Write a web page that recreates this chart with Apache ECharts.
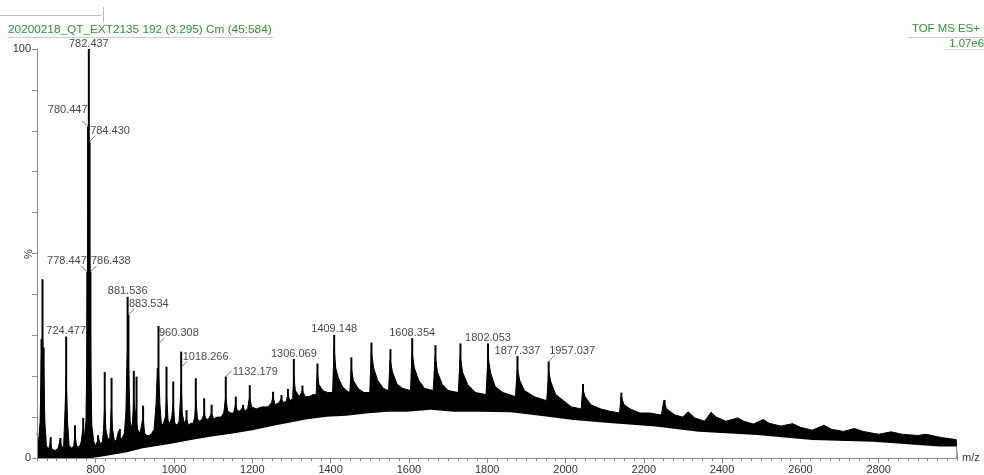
<!DOCTYPE html>
<html>
<head>
<meta charset="utf-8">
<script src="https://cdn.jsdelivr.net/npm/echarts@6/dist/echarts.min.js"></script>
<style>
  html, body { margin: 0; padding: 0; background: #fff; }
  #chart { width: 984px; height: 475px; }
</style>
</head>
<body>
<div id="chart"></div>
<script>
// upper edge of the signal band, [m/z, %]
const bandTop = [
  [650,6],[654,4],[658,9],[661,24],[664,30],[667,22],[670,9],[674,3],[680,2.2],[684,4],[688,2.2],
  [696,1.8],[704,2.4],[709,4.5],[713,2.5],[718,3],[721,10],[724.5,20],[728,9],[732,3],[739,2.4],
  [744,3],[747,6],[751,3],[758,2.6],[763,4],[767,7],[771,5],[775,9],[777.5,25],[779.5,45],
  [781.5,60],[783.5,60],[785.5,45],[787.5,22],[790,8],[795,4],[800,3],[804,4],[807,5],[811,3.5],
  [817,4],[820,7],[823,13],[826,7],[831,4.5],[836,5],[840,12],[843,7],[848,4],[853,4.5],[858,6.5],
  [862,4.5],[868,5],[873,6],[877,11],[880,24],[882.5,28],[885,18],[888,9],[893,7],[897,14],
  [900,12],[904,12],[907,7],[913,6],[918,6],[921,10],[925,6],[931,5.5],[937,5.5],[943,6],[949,7],
  [954,13],[957.5,22],[961,20],[964,13],[968,8],[973,8.5],[978,10],[981,15],[985,9],[990,8.5],
  [994,10],[998,13],[1002,8.5],[1008,8],[1013,9],[1016,14],[1018.5,18],[1021,11],[1026,8.5],
  [1032,9.5],[1037,8],[1043,8.5],[1049,8.5],[1053,10],[1056,14],[1060,9.5],[1066,9],[1072,9.5],
  [1077,11],[1082,9.5],[1088,9.5],[1093,9.5],[1096,11],[1101,9.5],[1110,10],[1120,10],[1127,11],
  [1132,15],[1137,11.5],[1145,11],[1152,11],[1157,13],[1162,11.5],[1169,11.5],[1176,12.5],
  [1181,11.5],[1188,12],[1193,15],[1198,12.5],[1210,12],[1225,12.5],[1240,12.5],[1249,13.5],
  [1253,15],[1258,13],[1268,13.5],[1274,14.5],[1280,13.5],[1287,14],[1291,15.5],[1296,14],
  [1303,14.5],[1306,20],[1310,16.5],[1320,15],[1328,16.5],[1335,15],[1345,15],[1355,15.5],
  [1363,15.5],[1366,21],[1370,18],[1380,16.5],[1392,16],[1405,16],[1409,27],[1413,22],[1420,19.5],
  [1430,17.5],[1440,16.5],[1449,16],[1453,22],[1458,19],[1470,17],[1485,16],[1500,16],[1504,26],
  [1510,22],[1520,19],[1535,17],[1548,16.5],[1552,24],[1558,21],[1570,18],[1585,17],[1604,16.5],
  [1608,26],[1614,22],[1625,19],[1640,17],[1662,16.5],[1667,25],[1673,21],[1685,18],[1700,16.5],
  [1726,16],[1731,25],[1737,21],[1750,18],[1770,16],[1797,15.5],[1802,25],[1808,21],[1820,17.5],
  [1840,16],[1872,15],[1877,22],[1883,19],[1895,16.5],[1920,15],[1952,14],[1957,21],[1963,18.5],
  [1975,15.5],[1995,14],[2015,12.5],[2040,12],[2044,17],[2050,15],[2065,13],[2090,12],[2110,11.5],
  [2138,11],[2142,15],[2150,13],[2165,12],[2190,11],[2215,11],[2245,10.5],[2251,14],[2258,12],
  [2280,10.5],[2300,10],[2313,11.3],[2330,9.8],[2355,9],[2372,11.2],[2385,10],[2410,9],[2440,9.8],
  [2455,9],[2480,8.3],[2505,9.4],[2520,8.5],[2550,7.8],[2580,8.4],[2600,7.5],[2630,6.8],[2660,8],
  [2680,7],[2710,6.5],[2738,7.2],[2760,6.5],[2800,5.8],[2832,6.4],[2860,5.8],[2900,5.5],[2921,5.8],
  [2960,5],[2998,4.5],[3000,0]
];

// lower edge of the band (white below it)
const bandFloor = [
  [650,0],[790,0],[820,0.4],[850,0.9],[880,1.4],[920,2.4],[960,3.0],[1000,3.6],[1050,4.5],
  [1100,5.3],[1150,6.0],[1200,6.8],[1260,8.0],[1340,9.5],[1390,10.1],[1440,10.3],[1490,10.9],
  [1545,11.3],[1595,11.3],[1655,11.8],[1715,11.3],[1780,11.3],[1860,11.2],[1935,10.3],[2020,9.3],
  [2120,8.5],[2230,7.7],[2340,6.4],[2490,5.6],[2630,4.4],[2785,4.0],[2955,2.8],[2999,2.8]
];

// centroid spikes
const spikeMz = [661.5,664,667,685,710,724.5,747,768,778.4,780.4,782.4,784.4,786.4,806,823,840.4,
  861.6,881.5,883.5,897.3,904.2,921,960.3,980.8,998,1018.3,1032,1055.6,1077,1096,1132.2,1157.8,
  1176.4,1193.5,1253,1274.5,1291,1306.1,1328,1345,1366.4,1409.1,1453,1504.3,1552.8,1608.4,1667.8,
  1731.6,1802.1,1877.3,1957,2044.7,2142.7,2253];
const spikePct = [29,43.7,27,5.1,4.9,29.7,8,9.8,45.5,81,100,77.4,45.5,5.6,21,19.6,
  7.1,39.4,35,21.3,19.9,12.8,32.3,22.3,18.7,26,11.7,19.5,14.6,13,19.9,15,
  13,17.8,16.2,15.4,16.9,24.2,17.7,14.8,23.1,30.1,24.6,28.2,26.6,29.3,27.6,
  28,28,24.9,23.6,18.1,16,14.2];

// annotated peaks and the height where each label attaches
const peakText = ['782.437','780.447','784.430','778.447','786.438','724.477','881.536','883.534',
  '960.308','1018.266','1132.179','1306.069','1409.148','1608.354','1802.053','1877.337','1957.037'];
const peakAt = [100,81,77.4,45.5,45.5,29.7,39.4,35,27.9,22.2,19.9,24.2,30.1,29.3,28,24.9,23.6];
const peakSide = ['top','left','right','left','right','top','top','right',
  'right','right','right','top','top','top','top','top','right'];
const peakDx = [0,9,-9,9,-9,0,0,-9,-9,-8,-2.5,0,0,0,0,0,-9];
const peakDy = [0,-14,-7,-8,-8,0,0,-8,-7.5,-7.6,-2,0,0,0,0,0,-7.5];

const xLabels = [800,1000,1200,1400,1600,1800,2000,2200,2400,2600,2800];
const yLabels = [0,100];

const minorTicks = [];
for (let v = 650; v <= 3000; v += 25) minorTicks.push(v);

const font = 'Liberation Sans';
const green = '#2a962a';
// small leader strokes from peak to label
const leader = {
  right: { symbol: 'path://M0,6L6,0', offset: [3, -3] },
  left: { symbol: 'path://M0,0L6,6', offset: [-3, -3] }
};

const chart = echarts.init(document.getElementById('chart'));

chart.setOption({
  animation: false,
  backgroundColor: '#fff',
  grid: { left: 37, right: 27, top: 49, bottom: 17, outerBoundsMode: 'none' },
  xAxis: [{
    type: 'value', min: 650, max: 3000, z: 5,
    name: 'm/z', nameLocation: 'end', nameGap: 5,
    nameTextStyle: { color: '#333', fontSize: 11, fontFamily: font },
    axisLine: { lineStyle: { color: '#8a8a8a', width: 1 } },
    axisTick: { length: 3, customValues: minorTicks, lineStyle: { color: '#8a8a8a' } },
    axisLabel: {
      customValues: xLabels, margin: 6, color: '#333', fontSize: 11, fontFamily: font,
      formatter: v => String(v)
    },
    splitLine: { show: false }
  }, {
    type: 'value', min: 650, max: 3000, position: 'bottom', z: 5,
    axisLine: { show: false },
    axisTick: { length: 5, customValues: xLabels, lineStyle: { color: '#8a8a8a' } },
    axisLabel: { show: false },
    splitLine: { show: false }
  }],
  yAxis: {
    type: 'value', min: 0, max: 100, interval: 10, z: 5,
    axisLine: { show: true, lineStyle: { color: '#8a8a8a', width: 1 } },
    axisTick: { show: true, length: 5, lineStyle: { color: '#8a8a8a' } },
    axisLabel: {
      margin: 6, color: '#333', fontSize: 11, fontFamily: font,
      formatter: v => (yLabels.indexOf(v) >= 0 ? String(v) : '')
    },
    splitLine: { show: false }
  },
  series: [{
    type: 'line', data: bandTop, showSymbol: false, z: 2,
    lineStyle: { color: '#000', width: 1 },
    areaStyle: { color: '#000', opacity: 1 }
  }, {
    type: 'bar', data: spikeMz.map((m, i) => [m, spikePct[i]]), barWidth: 2, z: 2,
    itemStyle: { color: '#000' }
  }, {
    type: 'line', data: bandFloor, showSymbol: false, z: 3,
    lineStyle: { width: 0 },
    areaStyle: { color: '#fff', opacity: 1 }
  }, {
    type: 'scatter', z: 4,
    itemStyle: { color: 'none', borderColor: '#555', borderWidth: 1 },
    data: peakText.map((t, i) => {
      const side = peakSide[i];
      const l = leader[side];
      return {
        value: [parseFloat(t), peakAt[i]],
        symbol: l ? l.symbol : 'circle',
        symbolSize: l ? [6, 6] : 0,
        symbolOffset: l ? l.offset : [0, 0],
        label: { position: side, distance: side === 'top' ? 0 : 1 }
      };
    }),
    label: {
      show: true, color: '#111', fontSize: 11, fontFamily: font,
      formatter: p => peakText[p.dataIndex]
    },
    labelLayout: p => ({ dx: peakDx[p.dataIndex], dy: peakDy[p.dataIndex] })
  }],
  graphic: [
    { type: 'line', shape: { x1: 0, y1: 15.5, x2: 101, y2: 15.5 }, style: { stroke: '#bbb', lineWidth: 1 } },
    { type: 'line', shape: { x1: 103.5, y1: 7, x2: 103.5, y2: 22 }, style: { stroke: '#bbb', lineWidth: 1 } },
    { type: 'line', shape: { x1: 8, y1: 37.5, x2: 273, y2: 37.5 }, style: { stroke: '#ccc', lineWidth: 1 } },
    { type: 'text', left: 8, top: 24,
      style: { text: '20200218_QT_EXT2135 192 (3.295) Cm (45:584)', fill: green, font: '11.8px "Liberation Sans"' } },
    { type: 'line', shape: { x1: 908, y1: 37.5, x2: 984, y2: 37.5 }, style: { stroke: '#ccc', lineWidth: 1 } },
    { type: 'line', shape: { x1: 945, y1: 49.5, x2: 984, y2: 49.5 }, style: { stroke: '#ddd', lineWidth: 1 } },
    { type: 'text', left: 912, top: 23,
      style: { text: 'TOF MS ES+', fill: green, font: '11.4px "Liberation Sans"' } },
    { type: 'text', right: 0, top: 38,
      style: { text: '1.07e6', fill: green, font: '11.4px "Liberation Sans"' } },
    { type: 'text', x: 28.5, y: 254, rotation: Math.PI / 2,
      style: { text: '%', fill: '#333', font: '11px "Liberation Sans"', align: 'center', verticalAlign: 'middle' } }
  ]
});
</script>
</body>
</html>
